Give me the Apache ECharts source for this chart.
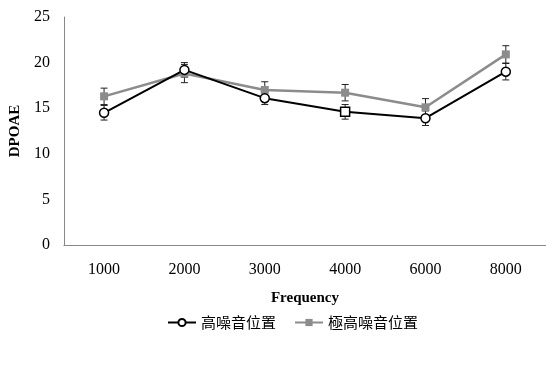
<!DOCTYPE html>
<html>
<head>
<meta charset="utf-8">
<script src="https://cdn.jsdelivr.net/npm/echarts@6/dist/echarts.min.js"></script>
<style>
  html, body { margin: 0; padding: 0; background: #fff; }
  #chart { width: 546px; height: 367px; }
</style>
</head>
<body>
<div id="chart"></div>
<script>
var categories = ['1000', '2000', '3000', '4000', '6000', '8000'];
var highValues = [14.5, 19.2, 16.1, 14.6, 13.9, 19.0];
var highErr = [0.8, 0.8, 0.7, 0.8, 0.8, 0.9];
var highSymbols = ['circle', 'circle', 'circle', 'rect', 'circle', 'circle'];
var veryHighValues = [16.3, 18.8, 17.0, 16.7, 15.1, 20.9];
var veryHighErr = [0.9, 1.0, 0.9, 0.9, 0.95, 0.95];

var chart = echarts.init(document.getElementById('chart'));

function errorData(values, errs) {
    return values.map(function (v, i) {
        return [i, v - errs[i], v + errs[i]];
    });
}

function renderErr(params, api) {
    var x = api.value(0);
    var lo = api.coord([x, api.value(1)]);
    var hi = api.coord([x, api.value(2)]);
    var half = 3.5;
    var style = {stroke: '#222', lineWidth: 1};
    return {
        type: 'group',
        children: [
            {type: 'line', shape: {x1: lo[0], y1: lo[1], x2: hi[0], y2: hi[1]}, style: style},
            {type: 'line', shape: {x1: lo[0] - half, y1: lo[1], x2: lo[0] + half, y2: lo[1]}, style: style},
            {type: 'line', shape: {x1: hi[0] - half, y1: hi[1], x2: hi[0] + half, y2: hi[1]}, style: style}
        ]
    };
}

var serif = '"Liberation Serif", "DejaVu Serif", serif';
var cjk = '"Noto Sans CJK TC", "Noto Sans CJK SC", sans-serif';

var option = {
    animation: false,
    grid: {left: 62, right: -2, top: 17, bottom: 122},
    xAxis: {
        type: 'category',
        data: categories,
        name: 'Frequency',
        nameLocation: 'middle',
        nameGap: 46,
        nameTextStyle: {fontFamily: serif, fontSize: 15, fontWeight: 'bold', color: '#000'},
        axisLine: {lineStyle: {color: '#888', width: 1}},
        axisTick: {show: false},
        axisLabel: {fontFamily: serif, fontSize: 16, color: '#000', margin: 17}
    },
    yAxis: {
        type: 'value',
        min: 0,
        max: 25,
        interval: 5,
        name: 'DPOAE',
        nameLocation: 'middle',
        nameGap: 31,
        nameTextStyle: {fontFamily: serif, fontSize: 15, fontWeight: 'bold', color: '#000'},
        axisLine: {show: true, lineStyle: {color: '#888', width: 1}},
        axisTick: {show: false},
        splitLine: {show: false},
        axisLabel: {fontFamily: serif, fontSize: 16, color: '#000', margin: 14}
    },
    legend: {
        bottom: 32,
        left: 162,
        itemGap: 18,
        itemWidth: 28,
        itemHeight: 9,
        textStyle: {fontFamily: cjk, fontSize: 15, color: '#000'},
        data: ['高噪音位置', '極高噪音位置']
    },
    series: [
        {
            type: 'custom',
            renderItem: renderErr,
            data: errorData(veryHighValues, veryHighErr),
            z: 1,
            silent: true
        },
        {
            type: 'custom',
            renderItem: renderErr,
            data: errorData(highValues, highErr),
            z: 1,
            silent: true
        },
        {
            name: '極高噪音位置',
            type: 'line',
            data: veryHighValues,
            symbol: 'rect',
            symbolSize: 8,
            lineStyle: {color: '#8c8c8c', width: 2.5},
            itemStyle: {color: '#8c8c8c'},
            z: 3
        },
        {
            name: '高噪音位置',
            type: 'line',
            symbol: 'circle',
            data: highValues.map(function (v, i) {
                return {value: v, symbol: highSymbols[i]};
            }),
            symbolSize: 9,
            lineStyle: {color: '#000', width: 2},
            itemStyle: {color: '#fff', borderColor: '#000', borderWidth: 1.5},
            z: 4
        }
    ]
};

chart.setOption(option);
</script>
</body>
</html>
